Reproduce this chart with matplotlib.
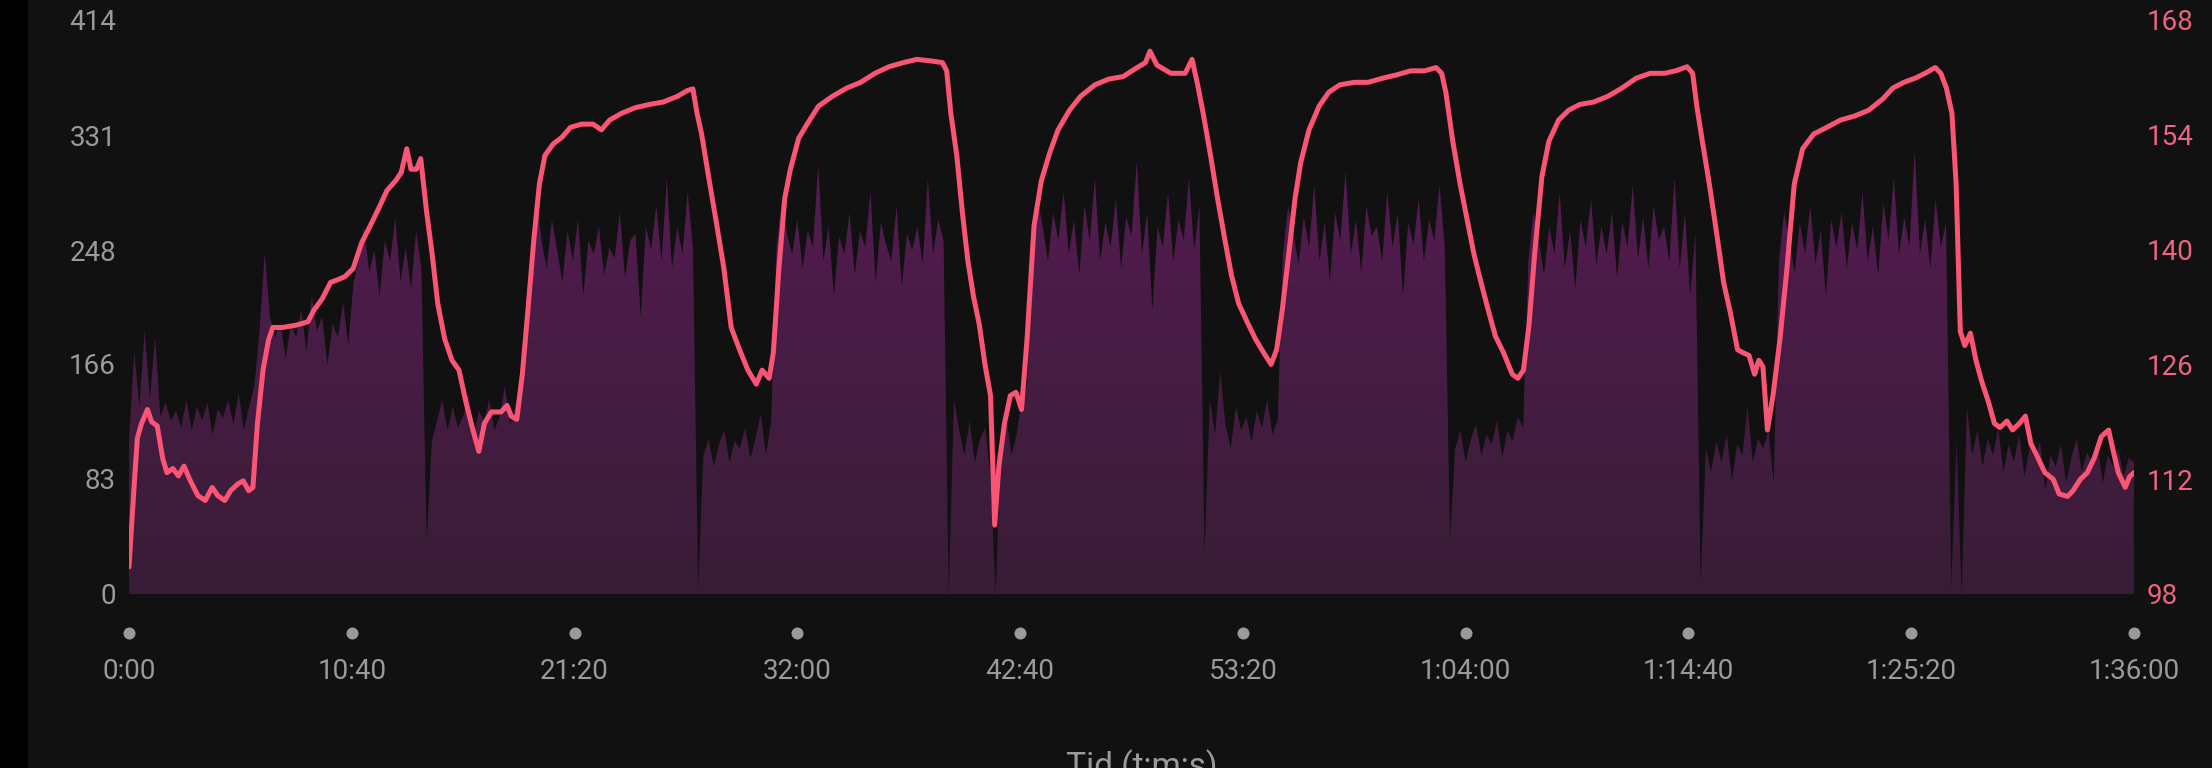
import numpy as np
import matplotlib
matplotlib.use("Agg")
import matplotlib.pyplot as plt
from matplotlib.colors import LinearSegmentedColormap
from matplotlib.transforms import blended_transform_factory

plt.rcParams['font.family'] = ['Roboto', 'DejaVu Sans']

# ---------------- data ----------------
# power (W) sampled every 15 s from 0:00 to 1:36:00
power_step = 15
power = [
    110, 175, 135, 190, 140, 185, 128, 138, 125, 132, 120, 140, 118, 135, 125, 138, 115, 133, 127, 140, 122, 145, 118, 135, 150,
    190, 246, 200, 185, 196, 170, 194, 185, 205, 175, 215, 190, 200, 165, 195, 185, 210, 180,
    225, 240, 265, 232, 248, 215, 255, 240, 271, 225, 250, 220, 262, 235,
    38, 110, 125, 140, 118, 135, 120, 128, 145, 115, 132, 125, 140, 118, 128, 150, 122, 135, 160, 175,
    240, 290, 255, 235, 270, 248, 225, 262, 240, 270, 215, 255, 245, 265, 230, 250, 242, 275, 228, 255,
    260, 200, 265, 248, 280, 240, 300, 235, 265, 245, 290, 250,
    5, 100, 112, 92, 108, 118, 95, 110, 105, 120, 98, 112, 130, 100, 125,
    250, 283, 260, 245, 270, 235, 262, 250, 310, 240, 265, 215, 258, 245, 275, 230, 262, 250, 290, 225,
    268, 252, 240, 280, 222, 260, 248, 265, 238, 300, 245, 270, 255,
    0, 140, 118, 100, 125, 95, 112, 120, 85, 0, 110, 130, 100, 115, 140, 150,
    250, 285, 265, 240, 275, 255, 290, 245, 270, 230, 280, 255, 300, 240, 268, 250, 285, 235, 272, 258,
    312, 245, 275, 205, 265, 250, 290, 240, 270, 255, 300, 248, 280,
    30, 140, 115, 160, 122, 105, 135, 118, 128, 110, 132, 120, 140, 115, 125,
    245, 280, 260, 238, 272, 250, 295, 240, 268, 225, 275, 255, 305, 245, 270, 232, 280, 258, 265, 240,
    290, 250, 275, 215, 268, 252, 285, 240, 270, 255, 295, 250,
    40, 105, 118, 95, 112, 122, 100, 115, 108, 125, 98, 118, 110, 128, 120,
    240, 275, 255, 230, 265, 245, 290, 235, 262, 220, 270, 250, 285, 238, 265, 245, 275, 228, 268, 250,
    295, 242, 272, 235, 280, 255, 265, 240, 300, 235, 275, 215, 260,
    8, 105, 88, 110, 95, 115, 82, 108, 100, 135, 95, 112, 105, 118, 80,
    240, 275, 255, 232, 268, 245, 280, 238, 262, 215, 270, 250, 275, 235, 268, 248, 290, 240, 265, 230,
    282, 255, 300, 245, 272, 250, 320, 245, 270, 235, 285, 250, 268,
    5, 110, 0, 135, 100, 118, 92, 112, 100, 120, 88, 108, 95, 115, 85, 105, 98, 110, 75, 100,
    92, 108, 80, 98, 112, 88, 102, 95, 110, 80, 100, 92, 105, 85, 98, 95,
]

# heart rate (bpm): sample times (s) and values
hr_time = [
    0, 16, 24, 36, 53, 65, 81, 97, 109, 126, 142, 158, 174, 198, 219, 239, 255, 275, 292, 312,
    328, 344, 356, 369, 385, 401, 413, 441, 482, 514, 531, 555, 579, 604, 620, 644, 668, 693, 717, 741,
    766, 782, 798, 810, 826, 838, 855, 871, 887, 907, 928, 948, 968, 988, 1005, 1021, 1041, 1069, 1086, 1098,
    1114, 1130, 1146, 1163, 1179, 1195, 1219, 1244, 1268, 1300, 1333, 1357, 1381, 1414, 1454, 1495, 1535, 1576, 1604, 1620,
    1632, 1645, 1665, 1689, 1709, 1730, 1754, 1778, 1802, 1819, 1839, 1851, 1867, 1884, 1900, 1924, 1948, 1981, 2021, 2062,
    2102, 2143, 2183, 2224, 2264, 2305, 2337, 2349, 2361, 2378, 2394, 2410, 2426, 2443, 2459, 2475, 2487, 2499, 2515, 2532,
    2548, 2564, 2580, 2600, 2621, 2645, 2669, 2702, 2734, 2775, 2815, 2856, 2896, 2920, 2933, 2953, 2993, 3034, 3054, 3070,
    3086, 3107, 3127, 3147, 3167, 3188, 3212, 3236, 3260, 3281, 3297, 3313, 3334, 3350, 3366, 3390, 3419, 3447, 3479, 3520,
    3560, 3601, 3641, 3682, 3722, 3755, 3771, 3783, 3803, 3824, 3844, 3864, 3884, 3905, 3925, 3949, 3974, 3990, 4006, 4022,
    4038, 4059, 4079, 4107, 4136, 4168, 4208, 4249, 4289, 4330, 4370, 4411, 4443, 4476, 4492, 4504, 4520, 4540, 4561, 4581,
    4601, 4621, 4638, 4654, 4670, 4682, 4694, 4707, 4723, 4743, 4763, 4784, 4808, 4840, 4877, 4917, 4958, 4998, 5039, 5067,
    5099, 5131, 5160, 5189, 5205, 5221, 5237, 5249, 5261, 5274, 5290, 5306, 5322, 5342, 5359, 5375, 5395, 5411, 5431, 5448,
    5464, 5484, 5504, 5528, 5545, 5569, 5585, 5606, 5626, 5646, 5666, 5687, 5699, 5715, 5735, 5747, 5760,
]
hr = [
    101.3, 112, 117, 118.8, 120.5, 119, 118.5, 114.5, 112.8, 113.3, 112.4, 113.6, 112, 110, 109.4, 111, 110, 109.4, 110.6, 111.4,
    111.8, 110.6, 111, 118.8, 125.3, 129, 130.5, 130.5, 130.8, 131.2, 132.6, 134, 136, 136.4, 136.7, 137.7, 140.8, 142.9, 145, 147.2,
    148.4, 149.4, 152.3, 149.8, 149.8, 151.1, 144.6, 139.4, 133.4, 129.1, 126.5, 125.3, 121.4, 118, 115.4, 118.8, 120.2, 120.2, 121, 119.7,
    119.3, 124.8, 132.6, 141.2, 148, 151.5, 152.9, 153.7, 154.9, 155.3, 155.3, 154.6, 155.8, 156.6, 157.3, 157.7, 158, 158.7, 159.4, 159.6,
    156.6, 154.1, 148.9, 142.9, 137.7, 130.5, 127.8, 125.3, 123.6, 125.3, 124.3, 127.4, 137.7, 146.3, 149.8, 153.6, 155.3, 157.5, 158.7, 159.7,
    160.4, 161.5, 162.3, 162.8, 163.2, 163, 162.8, 161.8, 156.6, 151.5, 144.6, 138.6, 134.3, 130.8, 126, 122.2, 106.4, 113.6, 118.8, 122.2,
    122.6, 120.5, 129.1, 142.9, 148.4, 151.8, 154.6, 157, 158.7, 160.1, 160.8, 161.1, 162.2, 162.8, 164.2, 162.5, 161.5, 161.5, 163.2, 160.1,
    156.6, 151.5, 146.3, 141.5, 136.9, 133.4, 131.2, 129.1, 127.4, 126, 127.8, 132.6, 140.3, 146.3, 150.6, 154.6, 157.5, 159.2, 160.1, 160.4,
    160.4, 160.9, 161.3, 161.8, 161.8, 162.2, 161.5, 159.2, 153.2, 148, 143.7, 139.4, 136, 132.6, 129.5, 127.4, 124.8, 124.3, 125.3, 130.8,
    139.4, 148.9, 153.2, 155.8, 157, 157.7, 158, 158.7, 159.7, 160.9, 161.5, 161.5, 161.8, 162.3, 161.5, 157.5, 153.2, 148, 142, 136,
    132.2, 127.8, 127.4, 127.1, 124.8, 126.5, 125.7, 118, 122.2, 129.1, 137.7, 148, 152.3, 154.1, 154.9, 155.8, 156.3, 157, 158.4, 159.7,
    160.4, 160.9, 161.5, 162.2, 161.5, 159.7, 156.6, 148, 130, 128.3, 129.8, 126.5, 124, 121.4, 118.8, 118.3, 119.1, 118, 118.8, 119.7,
    116.3, 114.6, 112.8, 112, 110.2, 109.9, 110.6, 112, 112.8, 114.6, 117.2, 118, 115.7, 112.8, 111, 112.3, 112.8,
]

power_ticks = [0, 83, 166, 248, 331, 414]
hr_ticks = [98, 112, 126, 140, 154, 168]
time_ticks = [0, 640, 1280, 1920, 2560, 3200, 3840, 4480, 5120, 5760]
time_labels = ["0:00", "10:40", "21:20", "32:00", "42:40", "53:20",
               "1:04:00", "1:14:40", "1:25:20", "1:36:00"]
x_title = "Tid (t:m:s)"

# ---------------- figure ----------------
W, H = 2212, 768
BG = "#111111"
fig = plt.figure(figsize=(W / 100, H / 100), dpi=100, facecolor=BG)
# black strip at the left edge
fig.patches.append(plt.Rectangle((0, 0), 28 / W, 1, transform=fig.transFigure,
                                 facecolor="#000000", edgecolor="none", zorder=0))

x0, x1 = 129, 2134
ytop, ybot = 20, 594
ax = fig.add_axes([x0 / W, 1 - ybot / H, (x1 - x0) / W, (ybot - ytop) / H])
ax.set_facecolor(BG)
for s in ax.spines.values():
    s.set_visible(False)

t_power = np.arange(len(power)) * power_step
ax.set_xlim(0, 5760)
ax.set_ylim(0, 414)

poly = ax.fill_between(t_power, power, 0, facecolor="none", edgecolor="none", linewidth=0)
cmap = LinearSegmentedColormap.from_list("pw", ["#381d36", "#4a1c47", "#621a60"])
grad = np.linspace(0, 1, 256).reshape(-1, 1)
im = ax.imshow(grad, extent=[0, 5760, 0, 414], origin="lower", aspect="auto",
               cmap=cmap, zorder=1, interpolation="bilinear")
im.set_clip_path(poly.get_paths()[0], transform=ax.transData)

ax.set_yticks(power_ticks)
ax.set_yticklabels([str(v) for v in power_ticks])
ax.tick_params(axis="y", length=0, pad=9.4, labelsize=20, labelcolor="#9a9a9a")
ax.set_xticks(time_ticks)
ax.set_xticklabels(time_labels)
ax.tick_params(axis="x", length=0, pad=46, labelsize=20, labelcolor="#9a9a9a")

# tick dots under the axis
trans = blended_transform_factory(ax.transData, ax.transAxes)
ax.scatter(time_ticks, [-39 / (ybot - ytop)] * len(time_ticks), s=75, color="#9a9a9a",
           transform=trans, clip_on=False, zorder=3, linewidths=0)

ax2 = ax.twinx()
for s in ax2.spines.values():
    s.set_visible(False)
ax2.set_ylim(98, 168)
ax2.plot(hr_time, hr, color="#fa5574", linewidth=3.6, solid_joinstyle="round",
         solid_capstyle="round", zorder=5)
ax2.set_yticks(hr_ticks)
ax2.set_yticklabels([str(v) for v in hr_ticks])
ax2.tick_params(axis="y", length=0, pad=9.4, labelsize=20, labelcolor="#ec6480")

fig.text(1142 / W, 1 - 749 / H, x_title, ha="center", va="top",
         fontsize=24, color="#9a9a9a")

fig.savefig("out.png", dpi=100, facecolor=BG)
